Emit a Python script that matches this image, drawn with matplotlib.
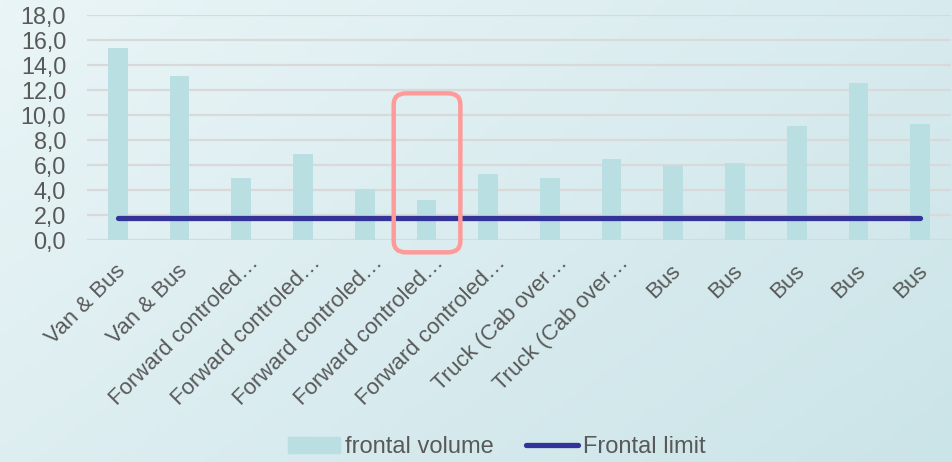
import matplotlib.pyplot as plt
import numpy as np
from matplotlib.patches import FancyBboxPatch, Patch
from matplotlib.lines import Line2D
from matplotlib.ticker import FuncFormatter
from matplotlib.transforms import ScaledTranslation

plt.rcParams['font.family'] = ['Liberation Sans', 'DejaVu Sans']

# vehicle categories (labels cut short the way the spreadsheet shows them)
categories = ["Van & Bus", "Van & Bus",
              "Forward controled…", "Forward controled…", "Forward controled…",
              "Forward controled…", "Forward controled…",
              "Truck (Cab over…", "Truck (Cab over…",
              "Bus", "Bus", "Bus", "Bus", "Bus"]
frontal_volume = [15.4, 13.1, 5.0, 6.9, 4.1, 3.2, 5.3, 5.0, 6.5, 6.0, 6.2, 9.1, 12.6, 9.3]
frontal_limit = [1.8] * len(categories)
highlight = 5  # index of the vehicle that gets the red frame

text_col = "#595959"
fs = 16.8
x = np.arange(len(categories))

fig = plt.figure(figsize=(9.52, 4.62), dpi=100)

# soft diagonal background
bg = fig.add_axes([0, 0, 1, 1], zorder=-10)
gx, gy = np.meshgrid(np.linspace(0, 1, 200), np.linspace(0, 1, 100))
t = (gx * 0.6 + gy * 0.4)
c0 = np.array([0xea, 0xf5, 0xf7]) / 255
c1 = np.array([0xcb, 0xe4, 0xe8]) / 255
img = c0[None, None, :] * (1 - t[..., None]) + c1[None, None, :] * t[..., None]
bg.imshow(img, aspect='auto', extent=[0, 1, 0, 1])
bg.axis('off')

ax = fig.add_axes([0.0914, 0.4805, 0.9075, 0.487])
ax.patch.set_alpha(0)

ax.bar(x, frontal_volume, width=0.32, color="#b9dfe3", zorder=2)
ax.plot(x, frontal_limit, color="#333399", lw=3.8, solid_capstyle='round', zorder=3)

ax.set_xlim(-0.5, len(categories) - 0.5)
ax.set_ylim(0, 18)
ax.set_yticks(np.arange(0, 18.1, 2))
ax.yaxis.set_major_formatter(FuncFormatter(lambda v, p: f"{v:.1f}".replace(".", ",")))
ax.grid(axis='y', color="#d9d9d9", lw=1.6, zorder=0)
ax.set_axisbelow(True)
for s in ax.spines.values():
    s.set_visible(False)
ax.tick_params(axis='y', length=0, pad=15, labelsize=fs, labelcolor=text_col)
ax.tick_params(axis='x', length=0, pad=15, labelsize=16, labelcolor=text_col)
ax.set_xticks(x)
ax.set_xticklabels(categories, rotation=45, ha='right', va='top', rotation_mode='anchor')
# shortened labels sit a little further up and to the right
for lab in ax.get_xticklabels():
    if lab.get_text().endswith("…"):
        shift = ScaledTranslation(0.07, 0.09, fig.dpi_scale_trans)
    else:
        shift = ScaledTranslation(-0.03, 0, fig.dpi_scale_trans)
    lab.set_transform(lab.get_transform() + shift)

# red frame around the highlighted vehicle
box = FancyBboxPatch((highlight - 0.5, -0.85), 1.02, 12.45,
                     boxstyle="round,pad=0.03,rounding_size=0.2",
                     mutation_aspect=4.5,
                     fill=False, ec="#ff9a9a", lw=3.2, clip_on=False, zorder=5)
ax.add_patch(box)

handles = [Patch(color="#b9dfe3"),
           Line2D([], [], color="#333399", lw=3.8, solid_capstyle='round')]
fig.legend(handles, ["frontal volume", "Frontal limit"], loc='center',
           bbox_to_anchor=(0.522, 0.032), ncol=2, frameon=False, fontsize=17,
           labelcolor=text_col, handlelength=2.2, handletextpad=0.21,
           columnspacing=1.35)

fig.savefig("out.png", dpi=100)
